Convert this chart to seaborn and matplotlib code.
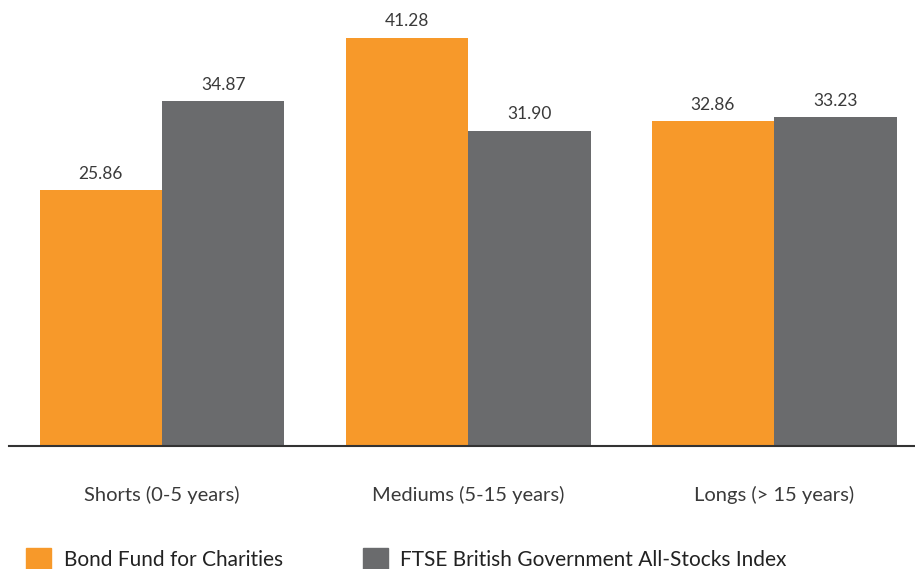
import pandas as pd
import numpy as np
import seaborn as sns
import matplotlib.pyplot as plt

categories = ["Shorts (0-5 years)", "Mediums (5-15 years)", "Longs (> 15 years)"]
series = ["Bond Fund for Charities", "FTSE British Government All-Stocks Index"]
fund_values = [25.86, 41.28, 32.86]
index_values = [34.87, 31.90, 33.23]

colors = ["#F7992A", "#6A6B6D"]

df = pd.DataFrame({
    "category": categories * 2,
    "series": [series[0]] * 3 + [series[1]] * 3,
    "value": fund_values + index_values,
})

sns.set_theme(style="white")
plt.rcParams["font.family"] = ["Lato", "DejaVu Sans"]

fig = plt.figure(figsize=(9.15, 5.69), dpi=100)
ax = fig.add_axes([9 / 915, 123 / 569, 906 / 915, 446 / 569])

sns.barplot(data=df, x="category", y="value", hue="series", palette=colors,
            width=0.8, saturation=1, linewidth=0, ax=ax, legend=False)

for cont in ax.containers:
    ax.bar_label(cont, fmt="%.2f", padding=6, fontsize=12.5, color="#3a3a3a")

ax.set_ylim(0, 45.1)
ax.set_xlim(-0.5, 2.46)
ax.set_xlabel("")
ax.set_ylabel("")
ax.set_yticks([])
ax.tick_params(axis="x", length=0, pad=29, labelsize=14.5, labelcolor="#3a3a3a")
for s in ["top", "left", "right"]:
    ax.spines[s].set_visible(False)
ax.spines["bottom"].set_color("#333333")
ax.spines["bottom"].set_linewidth(1.5)

handles = [plt.Rectangle((0, 0), 1, 1, color=c) for c in colors]
fig.legend(handles, series, loc="lower left", bbox_to_anchor=(0.008, -0.035),
           ncol=2, frameon=False, fontsize=15, handlelength=1.2, handleheight=1.2,
           handletextpad=0.6, columnspacing=3.85, labelcolor="#222222")

fig.savefig("out.png", dpi=100)
